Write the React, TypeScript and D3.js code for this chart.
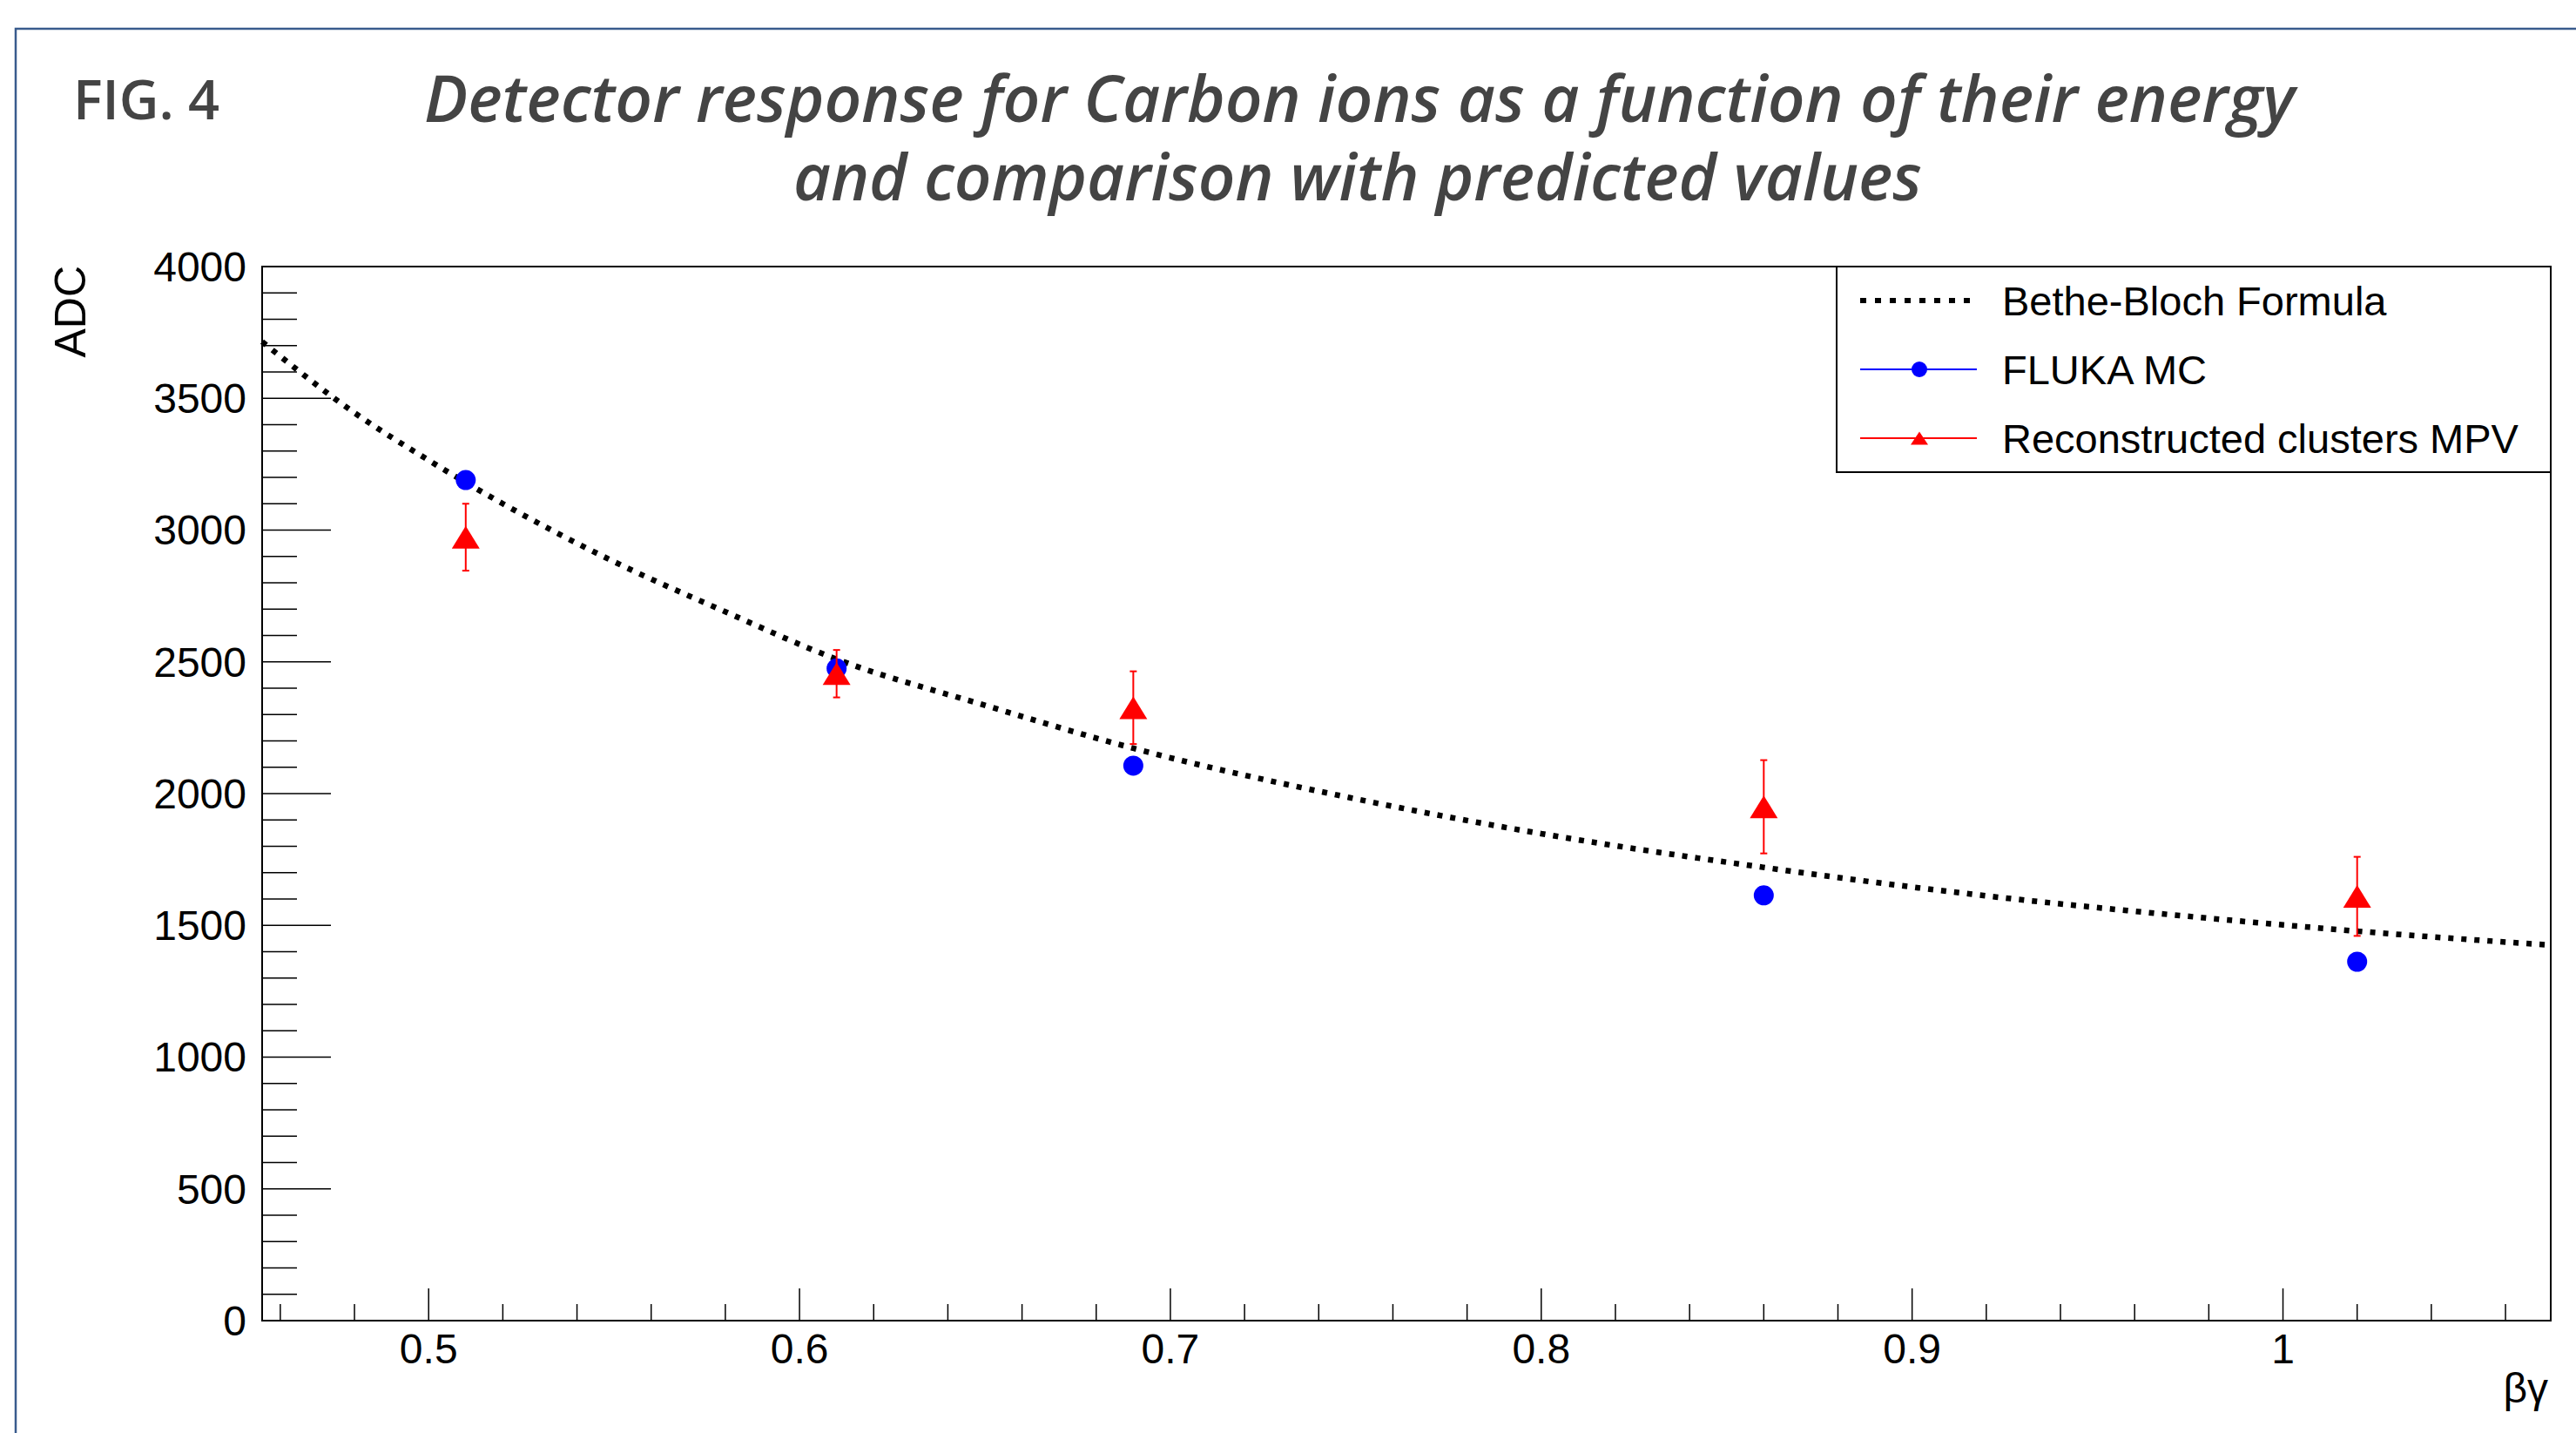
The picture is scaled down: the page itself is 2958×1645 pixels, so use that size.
import React from 'react';
import * as d3 from 'd3';

// beta*gamma of the five carbon beam energies
const betaGamma = [0.51, 0.61, 0.69, 0.86, 1.02];
// FLUKA MC prediction (ADC)
const flukaMC = [3190, 2475, 2106, 1614, 1362];
// reconstructed clusters MPV (ADC) and its error
const recoMPV = [2973, 2455, 2326, 1950, 1610];
const recoErr = [127, 90, 138, 177, 150];
// Bethe-Bloch curve
const bbX = [0.4551, 0.48, 0.5, 0.52, 0.55, 0.58, 0.61, 0.65, 0.69, 0.75, 0.8, 0.86, 0.92, 0.98, 1.02, 1.0722];
const bbY = [3715, 3445, 3265, 3100, 2880, 2690, 2510, 2335, 2172, 1980, 1848, 1720, 1612, 1527, 1478, 1425];

const legendLabels = ['Bethe-Bloch Formula', 'FLUKA MC', 'Reconstructed clusters MPV'];
const titleLines = [
  'Detector response for Carbon ions as a function of their energy',
  'and comparison with predicted values'
];

const W = 2958;
const H = 1645;
const frame = { left: 301, top: 306, right: 2929, bottom: 1516 };
const axisFont = '"Liberation Sans", Arial, Helvetica, sans-serif';

export default function App() {
  const x = d3.scaleLinear().domain([0.4551, 1.0722]).range([frame.left, frame.right]);
  const y = d3.scaleLinear().domain([0, 4000]).range([frame.bottom, frame.top]);

  const yMajor = y.ticks(8);
  const yMinor = y.ticks(40).filter((v) => !yMajor.includes(v));
  const xMajor = x.ticks(6);
  const xMinor = x.ticks(30).filter((v) => !xMajor.some((m) => Math.abs(m - v) < 1e-9));
  const fmt = (v: number) => String(+v.toFixed(2));

  const bbLine = d3.line<number>()
    .x((d, i) => x(bbX[i]))
    .y((d) => y(d))
    .curve(d3.curveMonotoneX);

  const tri = (cx: number, cy: number, w: number, h: number) =>
    `M${cx - w / 2},${cy + h / 2}L${cx + w / 2},${cy + h / 2}L${cx},${cy - h / 2}Z`;

  const legendRows = [345, 424, 503];

  return (
    <svg width={W} height={H} style={{ position: 'absolute', left: 0, top: 0, background: '#fff' }}>
      {/* outer border */}
      <path d={`M18,${H}L18,33L${W},33`} fill="none" stroke="#395b8d" strokeWidth={2.5} />

      <text x={84} y={137} fontFamily='"Open Sans", sans-serif' fontWeight={600} fontSize={63} fill="#444">FIG. 4</text>
      <text x={1561} y={140} textAnchor="middle" fontFamily='"Open Sans", sans-serif' fontStyle="italic"
        fontWeight={600} fontSize={75} fill="#444" textLength={2148} lengthAdjust="spacingAndGlyphs">{titleLines[0]}</text>
      <text x={1559} y={230} textAnchor="middle" fontFamily='"Open Sans", sans-serif' fontStyle="italic"
        fontWeight={600} fontSize={75} fill="#444" textLength={1296} lengthAdjust="spacingAndGlyphs">{titleLines[1]}</text>

      {/* y ticks */}
      {yMinor.map((v) => (
        <line key={'ym' + v} x1={frame.left} x2={frame.left + 40} y1={y(v)} y2={y(v)} stroke="#000" strokeWidth={1.5} />
      ))}
      {yMajor.map((v) => (
        <g key={'yM' + v}>
          <line x1={frame.left} x2={frame.left + 79} y1={y(v)} y2={y(v)} stroke="#000" strokeWidth={1.5} />
          <text x={283} y={y(v)} dy="0.35em" textAnchor="end" fontFamily={axisFont} fontSize={48}>{v}</text>
        </g>
      ))}

      {/* x ticks */}
      {xMinor.map((v) => (
        <line key={'xm' + v} x1={x(v)} x2={x(v)} y1={frame.bottom} y2={frame.bottom - 19} stroke="#000" strokeWidth={1.5} />
      ))}
      {xMajor.map((v) => (
        <g key={'xM' + v}>
          <line x1={x(v)} x2={x(v)} y1={frame.bottom} y2={frame.bottom - 37} stroke="#000" strokeWidth={1.5} />
          <text x={x(v)} y={1565} textAnchor="middle" fontFamily={axisFont} fontSize={48}>{fmt(v)}</text>
        </g>
      ))}

      <text transform="translate(98,305) rotate(-90)" textAnchor="end" fontFamily={axisFont} fontSize={50}>ADC</text>
      <text x={2926} y={1610} textAnchor="end" fontFamily={axisFont} fontSize={48}>βγ</text>

      {/* Bethe-Bloch */}
      <path d={bbLine(bbY) || ''} fill="none" stroke="#000" strokeWidth={6.5} strokeDasharray="6 9" />

      {/* FLUKA MC */}
      {betaGamma.map((b, i) => (
        <circle key={'f' + i} cx={x(b)} cy={y(flukaMC[i])} r={11.5} fill="#0000ff" />
      ))}

      {/* reconstructed MPV */}
      {betaGamma.map((b, i) => {
        const cx = x(b);
        const top = y(recoMPV[i] + recoErr[i]);
        const bot = y(recoMPV[i] - recoErr[i]);
        return (
          <g key={'r' + i} stroke="#ff0000" strokeWidth={2}>
            <line x1={cx} x2={cx} y1={top} y2={bot} />
            <line x1={cx - 4} x2={cx + 4} y1={top} y2={top} />
            <line x1={cx - 4} x2={cx + 4} y1={bot} y2={bot} />
            <path d={tri(cx, y(recoMPV[i]), 32, 26)} fill="#ff0000" stroke="none" />
          </g>
        );
      })}

      {/* frame */}
      <rect x={frame.left} y={frame.top} width={frame.right - frame.left} height={frame.bottom - frame.top}
        fill="none" stroke="#000" strokeWidth={2} />

      {/* legend */}
      <rect x={2109} y={frame.top} width={frame.right - 2109} height={542 - frame.top} fill="#fff" stroke="#000" strokeWidth={2} />
      <line x1={2136} x2={2270} y1={legendRows[0]} y2={legendRows[0]} stroke="#000" strokeWidth={6} strokeDasharray="7 10" />
      <line x1={2136} x2={2270} y1={legendRows[1]} y2={legendRows[1]} stroke="#0000ff" strokeWidth={2} />
      <circle cx={2204} cy={legendRows[1]} r={9} fill="#0000ff" />
      <line x1={2136} x2={2270} y1={legendRows[2]} y2={legendRows[2]} stroke="#ff0000" strokeWidth={2} />
      <path d={tri(2204, legendRows[2], 20, 15)} fill="#ff0000" />
      {legendLabels.map((t, i) => (
        <text key={t} x={2299} y={legendRows[i] + 17} fontFamily={axisFont} fontSize={47}>{t}</text>
      ))}
    </svg>
  );
}
